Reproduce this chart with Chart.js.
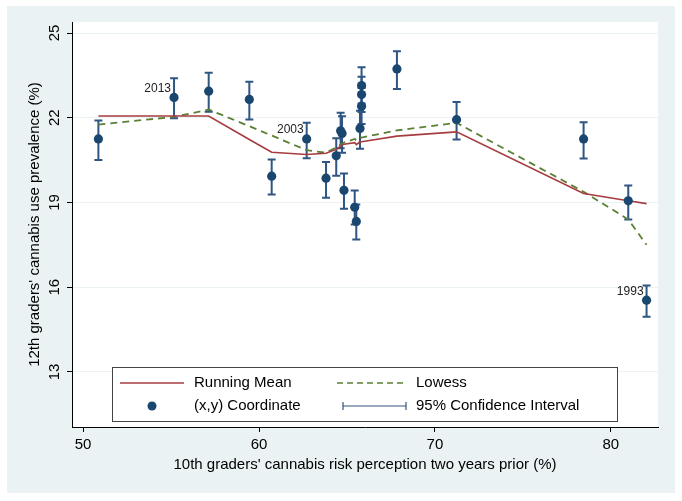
<!DOCTYPE html>
<html>
<head>
<meta charset="utf-8">
<script src="https://cdn.jsdelivr.net/npm/chart.js@4/dist/chart.umd.min.js"></script>
<style>
  html, body { margin: 0; padding: 0; background: #fff; }
  canvas { display: block; }
</style>
</head>
<body>
<canvas id="graph" width="682" height="501"></canvas>
<script>
// risk perception (x) and use prevalence (y), sorted by x
const riskX = [50.87, 55.17, 57.14, 59.45, 60.72, 62.71, 63.81, 64.39, 64.64, 64.72, 64.83,
               65.44, 65.53, 65.74, 65.83, 65.83, 65.83, 67.84, 71.23, 78.45, 80.99, 82.03];
const useY = [21.25, 22.72, 22.94, 22.65, 19.93, 21.25, 19.86, 20.65, 21.54, 21.44, 19.43,
              18.83, 18.33, 21.62, 22.41, 22.82, 23.14, 23.73, 21.93, 21.25, 19.06, 15.54];
const ciLow = [20.50, 21.98, 22.21, 21.94, 19.28, 20.57, 19.17, 19.95, 20.92, 20.76, 18.78,
               18.22, 17.69, 20.90, 21.78, 22.20, 22.50, 23.02, 21.23, 20.56, 18.40, 14.95];
const ciHigh = [21.90, 23.40, 23.59, 23.27, 20.52, 21.82, 20.43, 21.27, 22.18, 22.05, 20.03,
                19.42, 18.93, 22.25, 23.05, 23.45, 23.79, 24.35, 22.56, 21.84, 19.60, 16.06];
const runningMean = [22.06, 22.06, 22.06, 21.23, 20.78, 20.70, 20.74, 20.88, 20.99, 21.03, 21.06,
                     21.12, 21.05, 21.15, 21.15, 21.15, 21.15, 21.35, 21.50, 19.32, 19.06, 18.96];
const lowess = [21.76, 22.03, 22.29, 21.70, 21.37, 20.85, 20.76, 20.95, 21.05, 21.08, 21.12,
                21.25, 21.20, 21.30, 21.30, 21.30, 21.30, 21.55, 21.82, 19.38, 18.40, 17.50];
const labelIdx = [1, 5, 21];
const labelText = ['2013', '2003', '1993'];
const xTicks = [50, 60, 70, 80];
const yTicks = [13, 16, 19, 22, 25];
const legendNames = ['Running Mean', 'Lowess', '(x,y) Coordinate', '95% Confidence Interval'];

const NAVY = '#1a476f';
const CI_COL = '#2f5582';
const RED = '#a63c40';
const GREEN = '#5c7f36';
const BG = '#eaf2f3';
const FONT = "'Liberation Sans', Arial, Helvetica, sans-serif";

Chart.defaults.font.family = FONT;
Chart.defaults.color = '#000';

const pts = (ys) => riskX.map((x, i) => ({x: x, y: ys[i]}));

const backdrop = {
  id: 'backdrop',
  beforeDraw(chart) {
    const ctx = chart.ctx, ca = chart.chartArea;
    ctx.save();
    ctx.fillStyle = '#fff';
    ctx.fillRect(0, 0, chart.width, chart.height);
    ctx.fillStyle = BG;
    ctx.fillRect(7, 6, chart.width - 14, chart.height - 14);
    ctx.fillStyle = '#fff';
    ctx.fillRect(ca.left, ca.top, ca.right - ca.left, ca.bottom - ca.top);
    ctx.restore();
  }
};

// confidence interval caps, through the chart's own scales
const errorBars = {
  id: 'errorBars',
  beforeDatasetsDraw(chart) {
    const ctx = chart.ctx, sx = chart.scales.x, sy = chart.scales.y;
    ctx.save();
    ctx.strokeStyle = CI_COL;
    ctx.lineWidth = 2;
    riskX.forEach((x, i) => {
      const px = sx.getPixelForValue(x);
      const lo = sy.getPixelForValue(ciLow[i]);
      const hi = sy.getPixelForValue(ciHigh[i]);
      ctx.beginPath();
      ctx.moveTo(px, lo); ctx.lineTo(px, hi);
      ctx.moveTo(px - 4, lo); ctx.lineTo(px + 4, lo);
      ctx.moveTo(px - 4, hi); ctx.lineTo(px + 4, hi);
      ctx.stroke();
    });
    ctx.restore();
  }
};

const extras = {
  id: 'extras',
  afterDraw(chart) {
    const ctx = chart.ctx, sx = chart.scales.x, sy = chart.scales.y, ca = chart.chartArea;
    ctx.save();
    // year labels
    ctx.font = '12px ' + FONT;
    ctx.fillStyle = '#222';
    ctx.textAlign = 'right';
    ctx.textBaseline = 'middle';
    labelIdx.forEach((k, j) => {
      ctx.fillText(labelText[j], sx.getPixelForValue(riskX[k]) - 3, sy.getPixelForValue(useY[k]) - 9);
    });

    // legend box inside the plot region
    const L = ca.left + 40, R = ca.right - 41, T = ca.bottom - 60, B = ca.bottom - 6;
    ctx.fillStyle = '#fff';
    ctx.fillRect(L, T, R - L, B - T);
    ctx.strokeStyle = '#444';
    ctx.lineWidth = 1;
    ctx.strokeRect(L + 0.5, T + 0.5, R - L, B - T);
    const r1 = T + 16, r2 = T + 39;
    const c1 = L + 8, c2 = L + 225;

    ctx.strokeStyle = RED; ctx.lineWidth = 1.5;
    ctx.beginPath(); ctx.moveTo(c1, r1); ctx.lineTo(c1 + 64, r1); ctx.stroke();

    ctx.fillStyle = NAVY;
    ctx.beginPath(); ctx.arc(c1 + 32, r2, 4.5, 0, Math.PI * 2); ctx.fill();

    ctx.strokeStyle = GREEN; ctx.lineWidth = 1.5; ctx.setLineDash([6, 4]);
    ctx.beginPath(); ctx.moveTo(c2, r1); ctx.lineTo(c2 + 70, r1); ctx.stroke();
    ctx.setLineDash([]);

    ctx.strokeStyle = CI_COL; ctx.lineWidth = 1.2;
    ctx.beginPath();
    ctx.moveTo(c2 + 6, r2); ctx.lineTo(c2 + 69, r2);
    ctx.moveTo(c2 + 6, r2 - 4); ctx.lineTo(c2 + 6, r2 + 4);
    ctx.moveTo(c2 + 69, r2 - 4); ctx.lineTo(c2 + 69, r2 + 4);
    ctx.stroke();

    ctx.font = '15px ' + FONT;
    ctx.fillStyle = '#000';
    ctx.textAlign = 'left';
    ctx.fillText(legendNames[0], c1 + 74, r1);
    ctx.fillText(legendNames[1], c2 + 79, r1);
    ctx.fillText(legendNames[2], c1 + 74, r2);
    ctx.fillText(legendNames[3], c2 + 79, r2);
    ctx.restore();
  }
};

new Chart(document.getElementById('graph').getContext('2d'), {
  type: 'scatter',
  data: {
    datasets: [
      {
        label: legendNames[2],
        data: pts(useY),
        backgroundColor: NAVY,
        borderWidth: 0,
        pointRadius: 4.6,
        pointHoverRadius: 4.6
      },
      {
        type: 'line',
        label: legendNames[0],
        data: pts(runningMean),
        borderColor: RED,
        borderWidth: 1.6,
        pointRadius: 0,
        fill: false,
        tension: 0
      },
      {
        type: 'line',
        label: legendNames[1],
        data: pts(lowess),
        borderColor: GREEN,
        borderWidth: 1.8,
        borderDash: [7, 5],
        pointRadius: 0,
        fill: false,
        tension: 0
      }
    ]
  },
  options: {
    responsive: false,
    animation: false,
    devicePixelRatio: 1,
    layout: { padding: { left: 0, top: 22, right: 24, bottom: 0 } },
    plugins: {
      legend: { display: false },
      tooltip: { enabled: false }
    },
    scales: {
      x: {
        type: 'linear',
        min: 49.37,
        max: 82.68,
        afterBuildTicks: (ax) => { ax.ticks = xTicks.map(v => ({value: v})); },
        afterFit: (s) => { s.height = 74; },
        grid: { drawOnChartArea: false, tickLength: 5, tickColor: '#000' },
        border: { color: '#000', width: 1 },
        ticks: { font: { size: 15 }, color: '#000', padding: 4, maxRotation: 0, autoSkip: false },
        title: {
          display: true,
          text: "10th graders' cannabis risk perception two years prior (%)",
          font: { size: 15 },
          color: '#000',
          padding: { top: 0, bottom: 27 }
        }
      },
      y: {
        min: 11.05,
        max: 25.39,
        afterBuildTicks: (ax) => { ax.ticks = yTicks.map(v => ({value: v})); },
        afterFit: (s) => { s.width = 72; },
        grid: { color: BG, lineWidth: 1, tickLength: 5, tickColor: '#000' },
        border: { color: '#000', width: 1 },
        ticks: {
          font: { size: 15 }, color: '#000', padding: 4,
          minRotation: 90, maxRotation: 90, crossAlign: 'center', autoSkip: false
        },
        title: {
          display: true,
          text: "12th graders' cannabis use prevalence (%)",
          font: { size: 15 },
          color: '#000',
          padding: { top: 26, bottom: 0 }
        }
      }
    }
  },
  plugins: [backdrop, errorBars, extras]
});
</script>
</body>
</html>
